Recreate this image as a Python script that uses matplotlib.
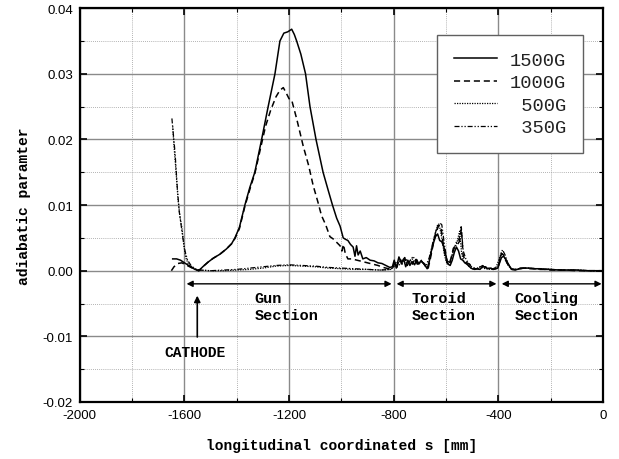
import matplotlib
matplotlib.use("Agg")
import matplotlib.pyplot as plt
from matplotlib.ticker import MultipleLocator, FormatStrFormatter

plt.rcParams['axes.unicode_minus'] = False

# ---------------- data ----------------
s_1500 = [-1645, -1630, -1615, -1600, -1580, -1560, -1545, -1530, -1510, -1490,
          -1465, -1440, -1420, -1407, -1390, -1369, -1350, -1331, -1305, -1280,
          -1254, -1235, -1220, -1205, -1190, -1180, -1171, -1155, -1137, -1120,
          -1097, -1070, -1050, -1034, -1018, -1005, -993, -985, -975, -965,
          -955, -948, -942, -936, -928, -918, -905, -890, -875, -860,
          -845, -830, -815, -805, -798, -790, -780, -770, -762, -754,
          -746, -738, -730, -720, -712, -704, -696, -688, -680, -672,
          -664, -656, -648, -640, -632, -624, -616, -608, -600, -592,
          -584, -576, -568, -560, -552, -544, -536, -528, -520, -510,
          -500, -490, -480, -470, -460, -450, -440, -430, -420, -410,
          -402, -395, -388, -380, -372, -364, -356, -348, -335, -320,
          -300, -280, -260, -240, -220, -200, -170, -140, -100, -60,
          -20, 0]
v_1500 = [0.0018, 0.0018, 0.0016, 0.0012, 0.0007, 0.0002, 0.0000, 0.0006, 0.0013, 0.0019,
          0.0025, 0.0033, 0.0041, 0.0050, 0.0066, 0.0100, 0.0127, 0.0150, 0.0200, 0.0250,
          0.0300, 0.0350, 0.0362, 0.0364, 0.0368, 0.0360, 0.0350, 0.0330, 0.0300, 0.0250,
          0.0200, 0.0150, 0.0122, 0.0100, 0.0080, 0.0068, 0.0050, 0.0048, 0.0046, 0.0040,
          0.0036, 0.0022, 0.0038, 0.0024, 0.0030, 0.0018, 0.0020, 0.0016, 0.0015, 0.0012,
          0.0011, 0.0008, 0.0005, 0.0006, 0.0016, 0.0004, 0.0021, 0.0012, 0.0018, 0.0006,
          0.0016, 0.0008, 0.0014, 0.0009, 0.0017, 0.0010, 0.0015, 0.0012, 0.0008, 0.0003,
          0.0014, 0.0030, 0.0042, 0.0052, 0.0056, 0.0046, 0.0044, 0.0036, 0.0022, 0.0010,
          0.0008, 0.0016, 0.0028, 0.0036, 0.0030, 0.0018, 0.0016, 0.0012, 0.0010, 0.0006,
          0.0003, 0.0002, 0.0003, 0.0002, 0.0006, 0.0006, 0.0003, 0.0004, 0.0002, 0.0003,
          0.0004, 0.0012, 0.0020, 0.0022, 0.0018, 0.0012, 0.0006, 0.0002, 0.0001, 0.0003,
          0.0004, 0.0004, 0.0003, 0.0003, 0.0002, 0.0002, 0.0001, 0.0001, 0.0001, 0.0000,
          0.0000, 0.0000]

s_1000 = [-1650, -1640, -1625, -1610, -1595, -1575, -1560, -1545, -1530, -1510,
          -1490, -1465, -1440, -1420, -1407, -1390, -1369, -1350, -1331, -1310,
          -1290, -1270, -1250, -1235, -1222, -1210, -1200, -1190, -1170, -1146,
          -1125, -1108, -1090, -1076, -1060, -1044, -1030, -1015, -1005, -998,
          -992, -985, -975, -960, -940, -920, -900, -880, -860, -840,
          -820, -805, -796, -788, -778, -768, -758, -748, -738, -728,
          -718, -708, -698, -688, -678, -668, -660, -652, -644, -636,
          -628, -620, -612, -604, -596, -588, -580, -572, -564, -556,
          -548, -541, -535, -528, -520, -510, -500, -490, -480, -470,
          -460, -450, -440, -430, -420, -410, -402, -395, -388, -380,
          -372, -364, -356, -348, -335, -320, -300, -280, -260, -240,
          -220, -200, -170, -140, -100, -60, -20, 0]
v_1000 = [0.0000, 0.0006, 0.0011, 0.0012, 0.0009, 0.0005, 0.0002, 0.0000, 0.0006, 0.0013,
          0.0019, 0.0025, 0.0033, 0.0041, 0.0049, 0.0064, 0.0098, 0.0124, 0.0148, 0.0185,
          0.0220, 0.0245, 0.0265, 0.0275, 0.0279, 0.0270, 0.0262, 0.0260, 0.0230, 0.0190,
          0.0160, 0.0130, 0.0105, 0.0084, 0.0070, 0.0052, 0.0048, 0.0042, 0.0038, 0.0030,
          0.0040, 0.0026, 0.0018, 0.0018, 0.0016, 0.0014, 0.0012, 0.0010, 0.0008, 0.0005,
          0.0003, 0.0003, 0.0012, 0.0005, 0.0018, 0.0010, 0.0020, 0.0008, 0.0017, 0.0010,
          0.0019, 0.0011, 0.0016, 0.0012, 0.0009, 0.0004, 0.0018, 0.0034, 0.0050, 0.0060,
          0.0069, 0.0068, 0.0045, 0.0025, 0.0012, 0.0010, 0.0020, 0.0034, 0.0038, 0.0040,
          0.0045, 0.0064, 0.0025, 0.0016, 0.0012, 0.0010, 0.0005, 0.0003, 0.0003, 0.0002,
          0.0007, 0.0005, 0.0003, 0.0004, 0.0002, 0.0003, 0.0004, 0.0014, 0.0026, 0.0024,
          0.0016, 0.0010, 0.0005, 0.0002, 0.0002, 0.0004, 0.0004, 0.0003, 0.0003, 0.0002,
          0.0002, 0.0001, 0.0001, 0.0001, 0.0000, 0.0000, 0.0000, 0.0000]

s_500 = [-1645, -1640, -1632, -1625, -1617, -1610, -1603, -1595, -1585, -1570,
         -1555, -1540, -1500, -1450, -1400, -1350, -1300, -1250, -1200, -1150,
         -1100, -1050, -1000, -950, -900, -850, -810, -790, -770, -750,
         -730, -710, -690, -670, -656, -644, -632, -624, -616, -606,
         -596, -584, -572, -560, -548, -540, -532, -520, -505, -490,
         -470, -450, -430, -410, -398, -388, -378, -366, -352, -335,
         -300, -250, -200, -150, -100, -50, 0]
v_500 = [0.0220, 0.0190, 0.0150, 0.0110, 0.0082, 0.0066, 0.0040, 0.0020, 0.0010, 0.0005,
         0.0002, 0.0001, 0.0000, 0.0000, 0.0001, 0.0002, 0.0004, 0.0007, 0.0008, 0.0007,
         0.0006, 0.0004, 0.0003, 0.0002, 0.0002, 0.0001, 0.0002, 0.0010, 0.0016, 0.0012,
         0.0018, 0.0010, 0.0014, 0.0004, 0.0030, 0.0052, 0.0070, 0.0066, 0.0050, 0.0024,
         0.0010, 0.0014, 0.0030, 0.0040, 0.0060, 0.0026, 0.0014, 0.0010, 0.0004, 0.0002,
         0.0006, 0.0003, 0.0002, 0.0004, 0.0016, 0.0028, 0.0022, 0.0010, 0.0003, 0.0002,
         0.0004, 0.0003, 0.0002, 0.0001, 0.0001, 0.0000, 0.0000]

s_350 = [-1648, -1643, -1636, -1628, -1620, -1613, -1606, -1598, -1588, -1575,
         -1560, -1545, -1500, -1450, -1400, -1350, -1300, -1250, -1200, -1150,
         -1100, -1050, -1000, -950, -900, -850, -810, -792, -775, -758,
         -742, -726, -710, -694, -678, -664, -652, -642, -632, -624,
         -616, -606, -596, -584, -572, -560, -550, -542, -534, -524,
         -512, -500, -480, -460, -440, -420, -402, -392, -384, -374,
         -362, -350, -335, -300, -250, -200, -150, -100, -50, 0]
v_350 = [0.0232, 0.0210, 0.0180, 0.0130, 0.0090, 0.0070, 0.0050, 0.0030, 0.0016, 0.0008,
         0.0003, 0.0001, 0.0000, 0.0001, 0.0002, 0.0004, 0.0006, 0.0008, 0.0009, 0.0008,
         0.0007, 0.0005, 0.0004, 0.0003, 0.0002, 0.0001, 0.0002, 0.0014, 0.0008, 0.0020,
         0.0012, 0.0022, 0.0010, 0.0016, 0.0006, 0.0020, 0.0040, 0.0056, 0.0068, 0.0073,
         0.0070, 0.0040, 0.0016, 0.0012, 0.0030, 0.0044, 0.0048, 0.0067, 0.0030, 0.0018,
         0.0010, 0.0005, 0.0003, 0.0008, 0.0004, 0.0003, 0.0006, 0.0022, 0.0032, 0.0024,
         0.0010, 0.0003, 0.0002, 0.0004, 0.0003, 0.0002, 0.0001, 0.0001, 0.0000, 0.0000]

series_labels = ["1500G", "1000G", " 500G", " 350G"]

x_ticks = [-2000, -1600, -1200, -800, -400, 0]
y_ticks = [-0.02, -0.01, 0.00, 0.01, 0.02, 0.03, 0.04]

section_names = ["Gun\nSection", "Toroid\nSection", "Cooling\nSection"]
section_spans = [(-1592, -808), (-789, -407), (-387, -5)]
section_text_x = [-1331, -732, -337]

# ---------------- figure ----------------
fig = plt.figure(figsize=(6.19, 4.60), dpi=100)
ax = fig.add_axes([0.129, 0.124, 0.845, 0.856])

mono = ['Liberation Mono', 'DejaVu Sans Mono']
sans = ['Liberation Sans', 'DejaVu Sans']

ax.plot(s_1500, v_1500, color='black', lw=1.1, ls='-', label=series_labels[0], zorder=5)
ax.plot(s_1000, v_1000, color='black', lw=1.1, ls=(0, (4, 2.5)), label=series_labels[1], zorder=5)
ax.plot(s_500, v_500, color='black', lw=0.9, ls=(0, (1, 1)), label=series_labels[2], zorder=5)
ax.plot(s_350, v_350, color='black', lw=0.9, ls=(0, (4, 1.5, 1, 1.5, 1, 1.5)), label=series_labels[3], zorder=5)

ax.set_xlim(-2000, 0)
ax.set_ylim(-0.02, 0.04)
ax.set_xticks(x_ticks)
ax.set_yticks(y_ticks)
ax.xaxis.set_minor_locator(MultipleLocator(200))
ax.yaxis.set_minor_locator(MultipleLocator(0.005))
ax.xaxis.set_major_formatter(FormatStrFormatter('%d'))
ax.yaxis.set_major_formatter(FormatStrFormatter('%.2f'))

ax.grid(which='major', color='#8a8a8a', lw=1.0, ls='-')
ax.grid(which='minor', color='#9a9a9a', lw=0.6, ls=(0, (1, 1.5)))
ax.set_axisbelow(True)

ax.tick_params(which='both', direction='in', top=True, right=True, color='black')
ax.tick_params(which='major', length=5, width=1.2, labelsize=9.5, pad=5)
ax.tick_params(which='minor', length=3, width=0.8)
for lab in ax.get_xticklabels() + ax.get_yticklabels():
    lab.set_family(sans)

for sp in ax.spines.values():
    sp.set_linewidth(1.6)

ax.set_xlabel("longitudinal coordinated s [mm]", family=mono, fontweight='bold', fontsize=10.5, labelpad=12)
ax.set_ylabel("adiabatic paramter", family=mono, fontweight='bold', fontsize=10.5, labelpad=8)

# section arrows and labels
arrow_y = -0.0020
for (x0, x1), name, tx in zip(section_spans, section_names, section_text_x):
    ax.annotate("", xy=(x0, arrow_y), xytext=(x1, arrow_y),
                arrowprops=dict(arrowstyle='<|-|>', color='black', lw=1.0,
                                mutation_scale=9, shrinkA=0, shrinkB=0))
    ax.text(tx, -0.0055, name, family=mono, fontweight='bold', fontsize=11,
            ha='left', va='center', linespacing=1.3)

# cathode arrow
ax.annotate("", xy=(-1551, -0.0038), xytext=(-1551, -0.0101),
            arrowprops=dict(arrowstyle='-|>', color='black', lw=1.2,
                            mutation_scale=9, shrinkA=0, shrinkB=0))
ax.text(-1560, -0.0124, "CATHODE", family=mono, fontweight='bold', fontsize=10.5,
        ha='center', va='center')

leg = ax.legend(loc='upper right', bbox_to_anchor=(0.962, 0.932), prop={'family': mono, 'size': 13.5},
                frameon=True, fancybox=False, edgecolor='#606060', framealpha=1,
                handlelength=2.3, handletextpad=0.7, labelspacing=0.28,
                borderpad=0.9, borderaxespad=0)
leg.get_frame().set_linewidth(1.0)
for t in leg.get_texts():
    t.set_color('#222222')
leg.set_zorder(10)

fig.savefig("out.png", dpi=100)
